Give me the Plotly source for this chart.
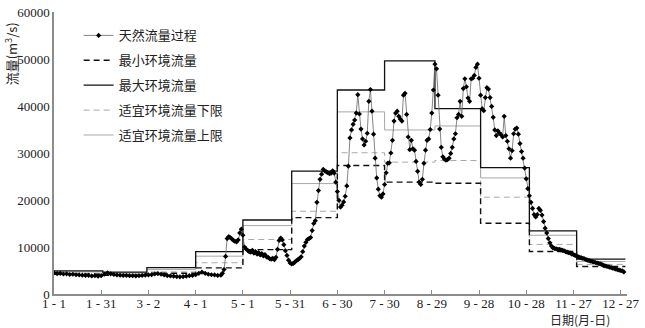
import plotly.graph_objects as go

# ---------------- data ----------------
# x tick positions (day of year, 0 = Jan 1) and their labels
tick_days = [0, 30, 60, 90, 120, 150, 180, 210, 240, 270, 300, 330, 360]
tick_labels = ["1 - 1", "1 - 31", "3 - 2", "4 - 1", "5 - 1", "5 - 31", "6 - 30",
               "7 - 30", "8 - 29", "9 - 28", "10 - 28", "11 - 27", "12 - 27"]
y_ticks = [0, 10000, 20000, 30000, 40000, 50000, 60000]
y_tick_labels = ["0", "10000", "20000", "30000", "40000", "50000", "60000"]

# natural flow process (m3/s): every 2nd day until day 106, then daily
flow_day = list(range(0, 107, 2)) + list(range(107, 363))
flow_q = [
    4500, 4350, 4400, 4250, 4300, 4150, 4200, 4100, 4050, 4000,
    3950, 3950, 3850, 3900, 3800, 3900, 4200, 4500, 4300, 4150,
    4050, 4000, 3950, 3950, 3900, 3900, 3850, 3900, 3950, 4000,
    4050, 4100, 4250, 4350, 4200, 4050, 3900, 3850, 3800, 3700,
    3650, 3700, 3800, 3900, 3950, 4100, 4400, 4650, 4400, 4200,
    4100, 4050, 3950, 4000,
    # day 107 onwards (daily)
    4400, 5200, 8000, 11800, 12200, 12000, 11700, 11400, 11200, 11100,
    11500, 13000, 13800, 12500, 10000, 9600, 9300, 9000, 8900, 9300,
    8700, 9000, 8500, 8800, 8300, 8600, 8100, 8400, 7900, 7800,
    7500, 7400, 7600, 7300, 7800, 9500, 11400, 11900, 11500, 10500,
    9200, 8200, 7200, 6600, 6400, 6500, 6800, 7100, 7300, 7600,
    7900, 9000, 10200, 11000, 11600, 11800, 12000, 13500, 15000, 15600,
    19500, 22000, 24400, 25500, 26500, 26200, 26000, 25800, 25600, 25700,
    26200, 25700, 23800, 21800, 19900, 18500, 18900, 19600, 20800, 23000,
    27200, 33200, 34900, 36100, 37000, 38500, 42400, 38300, 35100, 33000,
    31700, 32500, 34200, 41000, 43500, 38900, 34000, 28900, 24700, 22300,
    20900, 20600, 21300, 23300, 25800, 27800, 27900, 30000, 32700, 36800,
    38500, 38900, 37800, 37200, 36800, 42300, 42700, 38200, 33400, 30700,
    32700, 30900, 30600, 28200, 26100, 23800, 23300, 24400, 27800, 30600,
    32700, 33000, 35000, 38500, 43400, 48900, 47900, 42300, 35100, 31200,
    29200, 28700, 28500, 28600, 28900, 29900, 31200, 33000, 34100, 37500,
    38200, 41000, 37800, 43700, 45800, 44100, 41700, 41000, 45800, 45900,
    46500, 48200, 48900, 45900, 42300, 39400, 39000, 41800, 43900, 43600,
    41800, 39900, 37600, 34900, 33700, 34700, 34200, 33900, 33400, 37800,
    33700, 32500, 30900, 28900, 30500, 34100, 35100, 35300, 34000, 32000,
    30300, 28900, 26800, 24500, 22400, 20900, 19500, 18200, 16900, 16400,
    16900, 18200, 17800, 16800, 15400, 14000, 13000, 11800, 10900, 10200,
    9800, 9700, 9600, 9500, 9500, 9400, 9300, 9200, 9000, 8900,
    8800, 8700, 8500, 8400, 8200, 8100, 7900, 7800, 7700, 7600,
    7500, 7300, 7200, 7100, 7000, 6900, 6800, 6700, 6600, 6500,
    6400, 6300, 6100, 6000, 5900, 5800, 5700, 5600, 5500, 5400,
    5300, 5200, 5100, 5000, 4900, 4700,
]

# monthly environmental flow steps (start day of each month, last day of record)
month_start = [0, 31, 59, 90, 120, 151, 180, 210, 242, 271, 302, 332]
record_end = 363
q_min = [4200, 4000, 4400, 5550, 9450, 16250, 27350, 23800, 23550, 15050, 9050, 5850]
q_max = [4900, 4650, 5600, 9000, 15750, 26150, 43400, 49600, 39450, 26900, 13450, 7400]
q_suit_low = [4400, 4200, 4700, 6650, 11600, 17600, 30050, 28050, 28400, 20600, 10550, 6300]
q_suit_up = [4700, 4500, 5200, 8050, 14550, 23500, 38750, 34900, 35750, 24700, 12500, 6900]

names = ["天然流量过程", "最小环境流量", "最大环境流量", "适宜环境流量下限", "适宜环境流量上限"]

# ---------------- figure ----------------
fig = go.Figure()

step_x = month_start + [record_end]


def step_trace(vals, name, rank, color, width, dash):
    return go.Scatter(
        x=step_x, y=vals + [vals[-1]], mode="lines", name=name,
        line=dict(shape="hv", color=color, width=width, dash=dash),
        legendgroup=name, legendrank=rank, hoverinfo="skip",
    )


fig.add_trace(step_trace(q_suit_up, names[4], 5, "#a8a8a8", 1.0, "solid"))
fig.add_trace(step_trace(q_suit_low, names[3], 4, "#a8a8a8", 1.0, "6px,4px"))
fig.add_trace(step_trace(q_max, names[2], 3, "#111111", 1.3, "solid"))
fig.add_trace(step_trace(q_min, names[1], 2, "#111111", 1.4, "6px,4px"))

fig.add_trace(go.Scatter(
    x=flow_day, y=flow_q, mode="lines+markers", name=names[0],
    line=dict(color="#666666", width=0.8),
    marker=dict(symbol="diamond", size=4, color="#000000", line=dict(width=0)),
    legendgroup=names[0], legendrank=1,
))

serif = "Liberation Serif, DejaVu Serif, serif"
cjk = "Noto Sans CJK SC, sans-serif"

fig.update_layout(
    width=645, height=328,
    margin=dict(l=54, r=9, t=5, b=34),
    paper_bgcolor="white", plot_bgcolor="white",
    showlegend=True,
    legend=dict(
        x=0.043, y=0.97, xanchor="left", yanchor="top",
        bgcolor="rgba(0,0,0,0)", borderwidth=0,
        font=dict(family=cjk, size=13, color="#222222"),
        traceorder="grouped", tracegroupgap=5,
        itemwidth=30,
    ),
    xaxis=dict(
        range=[0, 364], tickmode="array", tickvals=tick_days, ticktext=tick_labels,
        showgrid=False, zeroline=False, showline=True, linecolor="#8c8c8c", linewidth=1.5,
        ticks="inside", ticklen=4, tickcolor="#8c8c8c", tickwidth=1,
        tickfont=dict(family=serif, size=13, color="#222222"),
        ticklabeloverflow="allow", ticklabelstandoff=-3,
    ),
    yaxis=dict(
        range=[0, 60000], tickmode="array", tickvals=y_ticks, ticktext=y_tick_labels,
        showgrid=False, zeroline=False, showline=True, linecolor="#8c8c8c", linewidth=1.5,
        ticks="", tickfont=dict(family=serif, size=13, color="#222222"),
        ticklabeloverflow="allow",
    ),
    annotations=[
        dict(text="流量(m<sup>3</sup>/s)", xref="paper", yref="paper",
             x=-0.075, y=0.85, textangle=-90, showarrow=False,
             font=dict(family=cjk, size=13, color="#222222"),
             xanchor="center", yanchor="middle"),
        dict(text="日期(月-日)", xref="paper", yref="paper",
             x=0.918, y=-0.092, showarrow=False,
             font=dict(family=cjk, size=12, color="#222222"),
             xanchor="center", yanchor="middle"),
    ],
)

fig.write_html("out.html")
